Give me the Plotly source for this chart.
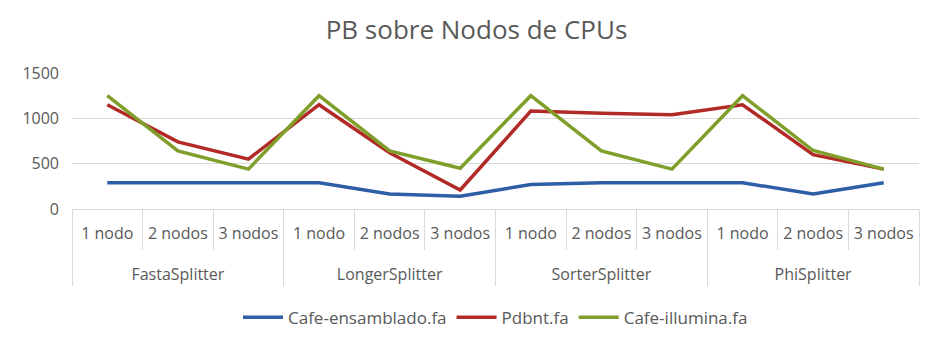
import plotly.graph_objects as go

groups = ["FastaSplitter", "LongerSplitter", "SorterSplitter", "PhiSplitter"]
nodes = ["1 nodo", "2 nodos", "3 nodos"]
cafe_ensamblado = [290, 290, 290, 290, 165, 140, 270, 290, 290, 290, 165, 290]
pdbnt = [1150, 740, 550, 1150, 620, 210, 1080, 1055, 1040, 1150, 600, 440]
cafe_illumina = [1250, 640, 440, 1250, 640, 450, 1250, 640, 440, 1250, 645, 440]
y_ticks = [0, 500, 1000, 1500]

x_groups = [g for g in groups for _ in nodes]
x_nodes = [n + "<br><span style='font-size:36px'> </span>" for _ in groups for n in nodes]
x = [x_groups, x_nodes]

font_family = "Open Sans, sans-serif"
series = [
    ("Cafe-ensamblado.fa", cafe_ensamblado, "#2E5EA6"),
    ("Pdbnt.fa", pdbnt, "#B22A26"),
    ("Cafe-illumina.fa", cafe_illumina, "#7F9F2A"),
]

fig = go.Figure()
for name, vals, color in series:
    fig.add_trace(go.Scatter(x=x, y=vals, name=name, mode="lines",
                             line=dict(color=color, width=3.5)))

fig.update_layout(
    width=937, height=347,
    margin=dict(l=64, r=26, t=65, b=146),
    paper_bgcolor="white", plot_bgcolor="white",
    font=dict(family=font_family, size=16, color="#595959"),
    title=dict(text="PB sobre Nodos de CPUs", x=0.5, xanchor="center",
               y=0.937, yanchor="middle",
               font=dict(family=font_family, size=26, color="#595959")),
    showlegend=True,
    legend=dict(orientation="h", x=0.5, xanchor="center", y=-0.8, yanchor="middle",
                font=dict(size=17, color="#595959"), itemwidth=40),
)
fig.update_yaxes(range=[0, 1500], tickvals=y_ticks, showgrid=True, gridcolor="#D9D9D9",
                 gridwidth=1, zeroline=False, showline=False, ticks="",
                 tickfont=dict(size=16), ticklabelstandoff=12, automargin=False)
fig.update_xaxes(type="multicategory", range=[-0.5, 11.5], showline=True,
                 linecolor="#D9D9D9", linewidth=1, automargin=False,
                 showgrid=False, tickson="boundaries", ticks="outside", ticklen=40,
                 tickcolor="#D9D9D9", showdividers=True, dividercolor="#D9D9D9",
                 dividerwidth=1, tickfont=dict(size=16), ticklabelstandoff=10)

fig.write_html("out.html")
